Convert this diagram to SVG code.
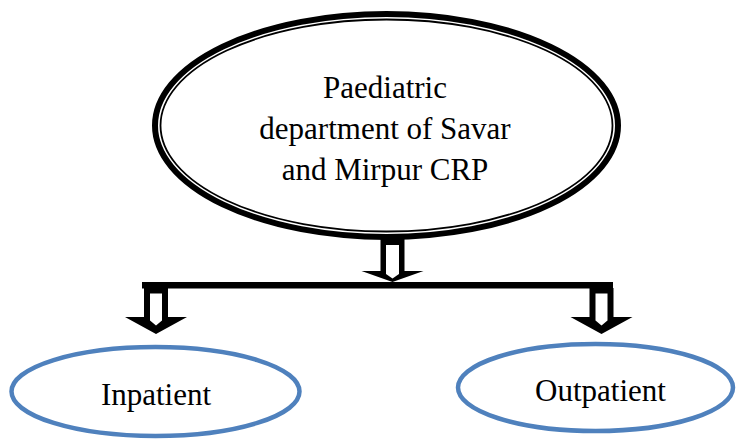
<svg xmlns="http://www.w3.org/2000/svg" width="737" height="440" viewBox="0 0 737 440">
  <style>
    .lbl { font-family: "Liberation Serif", "Times New Roman", serif; font-size: 31px; fill: #000; text-anchor: middle; }
    .blue { fill: #fff; stroke: #4F81BD; stroke-width: 4.5; }
    .arrOut { fill: #000; }
    .arrIn { fill: #fff; }
  </style>
  <rect width="737" height="440" fill="#fff"/>

  <g id="connectors">
    <rect x="142" y="282" width="471" height="6.5" fill="#000"/>
    <g id="arrow-center">
      <polygon class="arrOut" points="380.5,236 404.5,236 404.5,271 423.5,271 392.5,282 361.5,271 380.5,271"/>
      <polygon class="arrIn" points="386,245 399,245 399,274 392.5,278.5 386,274"/>
    </g>
    <g id="arrow-left">
      <polygon class="arrOut" points="144,288 168,288 168,317 187,317 156,334 125,317 144,317"/>
      <polygon class="arrIn" points="150,293.5 162,293.5 162,320.5 156,325.5 150,320.5"/>
    </g>
    <g id="arrow-right">
      <polygon class="arrOut" points="589.5,288 613.5,288 613.5,317 632.5,317 601.5,334 570.5,317 589.5,317"/>
      <polygon class="arrIn" points="595.5,293.5 607.5,293.5 607.5,320.5 601.5,325.5 595.5,320.5"/>
    </g>
  </g>

  <g id="node-root">
    <ellipse cx="386.5" cy="125.5" rx="231.5" ry="111.5" fill="#fff" stroke="#000" stroke-width="6"/>
    <ellipse cx="386.5" cy="125.5" rx="226" ry="106" fill="none" stroke="#000" stroke-width="1.8"/>
    <text class="lbl" x="385" y="98">Paediatric</text>
    <text class="lbl" x="385" y="139">department of Savar</text>
    <text class="lbl" x="385" y="180">and Mirpur CRP</text>
  </g>

  <g id="node-inpatient">
    <ellipse class="blue" cx="155.5" cy="391.5" rx="144" ry="44.5"/>
    <text class="lbl" x="156" y="405">Inpatient</text>
  </g>

  <g id="node-outpatient">
    <ellipse class="blue" cx="595.5" cy="387.5" rx="137.5" ry="43.5"/>
    <text class="lbl" x="600.5" y="401">Outpatient</text>
  </g>
</svg>
